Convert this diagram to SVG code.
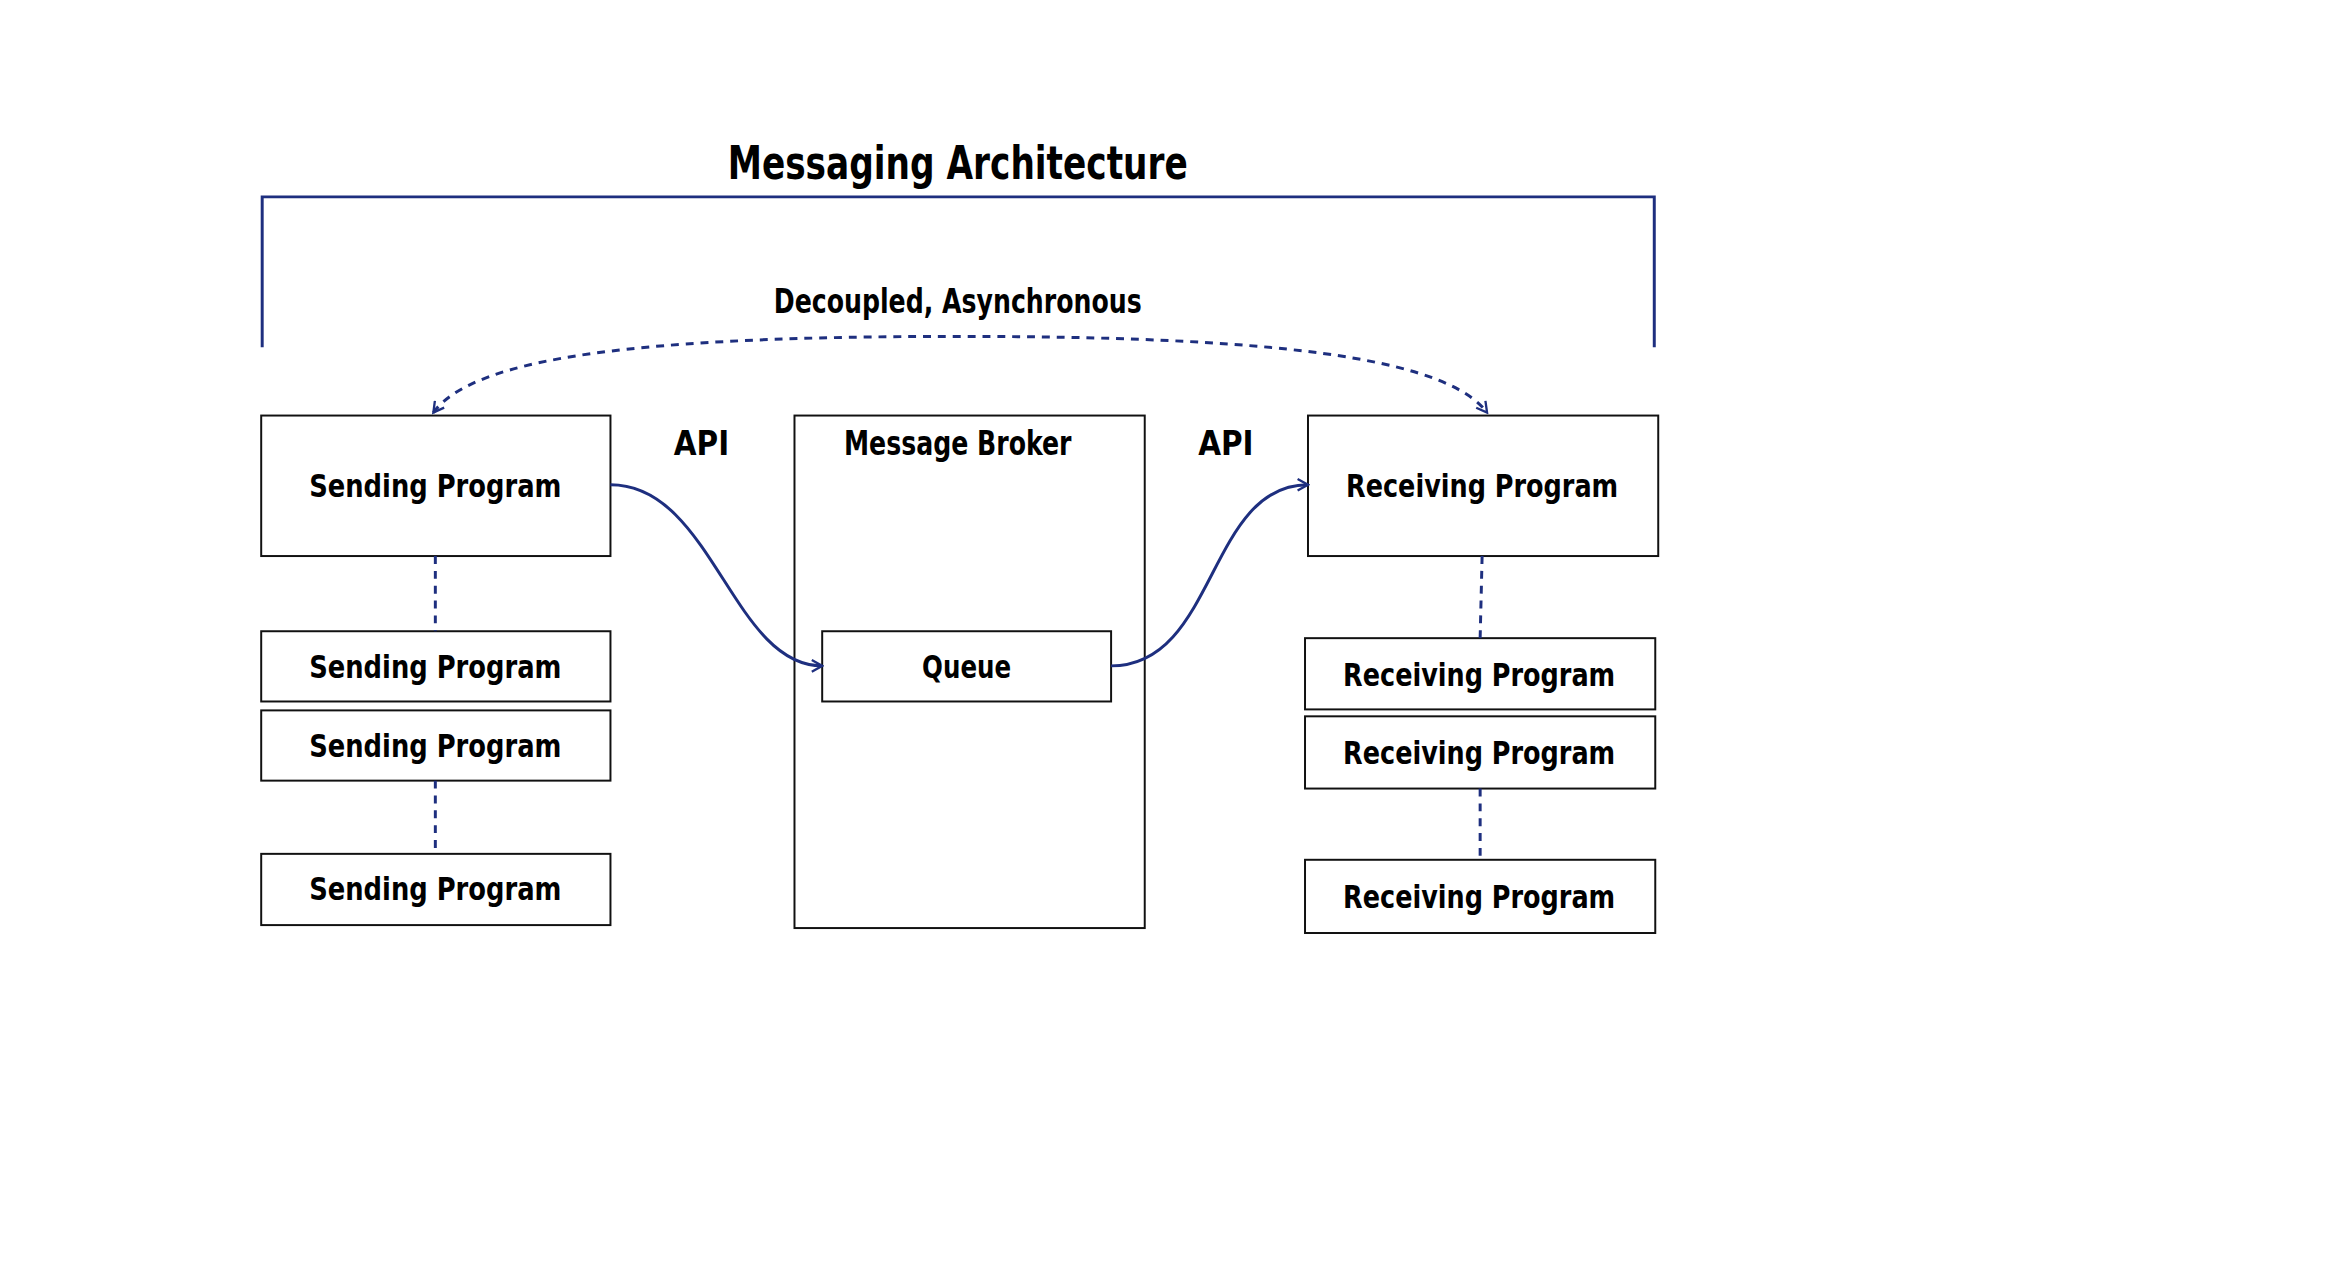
<svg xmlns="http://www.w3.org/2000/svg" width="2335" height="1283" viewBox="0 0 2335 1283">
<style>
.b{fill:#fff;stroke:#111;stroke-width:2}
.t{font-family:"DejaVu Sans Condensed","DejaVu Sans",sans-serif;font-weight:bold;fill:#000;text-anchor:middle}
.l{font-size:32px}
.c{fill:none;stroke:#1e2f7f;stroke-width:3}
.d{stroke-dasharray:8 7}
</style>
<defs>
<marker id="a" viewBox="0 0 12 12" refX="10" refY="6" markerWidth="14" markerHeight="14" markerUnits="userSpaceOnUse" orient="auto-start-reverse"><path d="M1 1L10 6L1 11" fill="none" stroke="#1e2f7f" stroke-width="2"/></marker>
</defs>
<rect width="2335" height="1283" fill="#fff"/>
<g transform="scale(0.9894)">
<text class="t" x="968" y="181" font-size="46" textLength="465" lengthAdjust="spacingAndGlyphs">Messaging Architecture</text>
<text class="t" x="968" y="316" font-size="34" textLength="372" lengthAdjust="spacingAndGlyphs">Decoupled, Asynchronous</text>
<text class="t" x="709" y="460" font-size="34" textLength="56" lengthAdjust="spacingAndGlyphs">API</text>
<text class="t" x="1239" y="460" font-size="34" textLength="56" lengthAdjust="spacingAndGlyphs">API</text>
<g id="sender1"><rect class="b" x="264" y="420" width="353" height="142"/><text class="t l" x="440" y="502" textLength="255" lengthAdjust="spacingAndGlyphs">Sending Program</text></g>
<g id="sender2"><rect class="b" x="264" y="638" width="353" height="71"/><text class="t l" x="440" y="685" textLength="255" lengthAdjust="spacingAndGlyphs">Sending Program</text></g>
<g id="sender3"><rect class="b" x="264" y="718" width="353" height="71"/><text class="t l" x="440" y="765" textLength="255" lengthAdjust="spacingAndGlyphs">Sending Program</text></g>
<g id="sender4"><rect class="b" x="264" y="863" width="353" height="72"/><text class="t l" x="440" y="910" textLength="255" lengthAdjust="spacingAndGlyphs">Sending Program</text></g>
<g id="broker"><rect class="b" x="803" y="420" width="354" height="518"/><text class="t" x="968" y="460" font-size="34" textLength="230" lengthAdjust="spacingAndGlyphs">Message Broker</text></g>
<g id="queue"><rect class="b" x="831" y="638" width="292" height="71"/><text class="t l" x="977" y="685" textLength="90" lengthAdjust="spacingAndGlyphs">Queue</text></g>
<g id="receiver1"><rect class="b" x="1322" y="420" width="354" height="142"/><text class="t l" x="1498" y="502" textLength="275" lengthAdjust="spacingAndGlyphs">Receiving Program</text></g>
<g id="receiver2"><rect class="b" x="1319" y="645" width="354" height="72"/><text class="t l" x="1495" y="693" textLength="275" lengthAdjust="spacingAndGlyphs">Receiving Program</text></g>
<g id="receiver3"><rect class="b" x="1319" y="724" width="354" height="73"/><text class="t l" x="1495" y="772" textLength="275" lengthAdjust="spacingAndGlyphs">Receiving Program</text></g>
<g id="receiver4"><rect class="b" x="1319" y="869" width="354" height="74"/><text class="t l" x="1495" y="918" textLength="275" lengthAdjust="spacingAndGlyphs">Receiving Program</text></g>
<g id="connectors">
<path class="c" d="M265 351V199H1672V351"/>
<path class="c d" d="M438 417C480 360 650 340 968 340C1280 340 1460 360 1503 417" marker-start="url(#a)" marker-end="url(#a)"/>
<path class="c" d="M617 490C720 490 740 673 831 673" marker-end="url(#a)"/>
<path class="c" d="M1123 673C1230 673 1220 490 1322 490" marker-end="url(#a)"/>
<path class="c d" d="M440 562V638M440 789V863M1498 562L1496 645M1496 797V869"/>
</g>
</g>
</svg>
